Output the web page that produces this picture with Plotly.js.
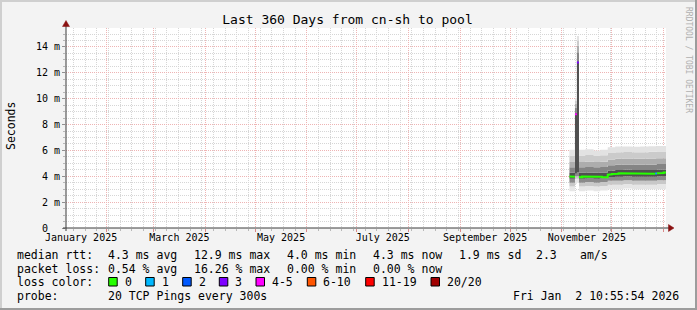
<!DOCTYPE html>
<html><head><meta charset="utf-8">
<script src="https://cdn.plot.ly/plotly-3.0.1.min.js"></script>
<style>html,body{margin:0;padding:0;background:#f3f3f3;}#chart{width:697px;height:310px;}</style>
</head><body><div id="chart"></div><script>
// ---------- data ----------
const titleText = 'Last 360 Days from cn-sh to pool';
const xRange = ['2025-01-07 10:55:54', '2026-01-02 10:55:54'];
const monthLabelDates = ['2025-01-16 12:00', '2025-03-16 12:00', '2025-05-16 12:00', '2025-07-16 12:00', '2025-09-16', '2025-11-16'];
const monthLabels = ['January 2025', 'March 2025', 'May 2025', 'July 2025', 'September 2025', 'November 2025'];
const yTickVals = [0, 2, 4, 6, 8, 10, 12, 14];
const yTickText = ['0\u00a0\u00a0', '2 m', '4 m', '6 m', '8 m', '10 m', '12 m', '14 m'];

const smokeDates = ['2025-11-05 12:00', '2025-11-08 20:00', '2025-11-10', '2025-11-11 06:00', '2025-11-15', '2025-11-20', '2025-11-24', '2025-11-28 12:00', '2025-12-03', '2025-12-08', '2025-12-13', '2025-12-18', '2025-12-23', '2025-12-28', '2026-01-02 10:55'];
const pingMin = [2.85, 3.4, 3.5, 2.85, 2.9, 2.85, 2.9, 3.0, 3.0, 3.05, 3.0, 3.0, 3.0, 3.0, 3.0];
const ping10 = [3.2, 3.8, 3.8, 3.2, 3.25, 3.2, 3.25, 3.35, 3.35, 3.4, 3.35, 3.35, 3.35, 3.4, 3.4];
const ping25 = [3.5, 4.0, 4.0, 3.5, 3.55, 3.5, 3.55, 3.65, 3.65, 3.7, 3.65, 3.65, 3.65, 3.7, 3.7];
const ping40 = [3.8, 4.2, 4.3, 3.8, 3.82, 3.8, 3.82, 3.95, 3.97, 4.0, 3.97, 3.97, 3.97, 4.0, 4.0];
const ping60 = [4.3, 8.9, 12.9, 4.3, 4.3, 4.28, 4.3, 4.45, 4.48, 4.5, 4.48, 4.48, 4.48, 4.5, 4.5];
const ping75 = [4.7, 9.3, 13.6, 4.7, 4.72, 4.7, 4.72, 4.85, 4.9, 4.92, 4.9, 4.9, 4.9, 4.95, 4.95];
const ping85 = [5.1, 9.6, 14.1, 5.1, 5.15, 5.1, 5.12, 5.3, 5.35, 5.38, 5.35, 5.35, 5.38, 5.4, 5.4];
const ping95 = [5.6, 9.85, 14.5, 5.6, 5.65, 5.6, 5.62, 5.8, 5.85, 5.88, 5.85, 5.85, 5.9, 5.92, 5.92];
const pingMax = [6.05, 10.05, 14.85, 6.05, 6.1, 6.0, 6.05, 6.25, 6.3, 6.3, 6.28, 6.3, 6.33, 6.35, 6.35];

const medianDates = ['2025-11-05 12:00', '2025-11-07', '2025-11-08 20:00', '2025-11-10', '2025-11-11 06:00',
  '2025-11-12', '2025-11-13', '2025-11-14', '2025-11-15', '2025-11-16', '2025-11-17', '2025-11-18', '2025-11-19',
  '2025-11-20', '2025-11-21', '2025-11-22', '2025-11-23', '2025-11-24', '2025-11-25', '2025-11-26', '2025-11-27',
  '2025-11-28 12:00', '2025-11-29', '2025-11-30',
  '2025-12-01', '2025-12-02', '2025-12-03', '2025-12-04', '2025-12-05', '2025-12-06', '2025-12-07', '2025-12-08',
  '2025-12-09', '2025-12-10', '2025-12-11', '2025-12-12', '2025-12-13', '2025-12-14', '2025-12-15', '2025-12-16',
  '2025-12-17', '2025-12-18', '2025-12-19', '2025-12-20', '2025-12-21', '2025-12-22', '2025-12-23', '2025-12-24',
  '2025-12-25', '2025-12-26', '2025-12-27', '2025-12-28', '2025-12-29', '2025-12-30', '2025-12-31',
  '2026-01-01', '2026-01-02 10:55'];
const medianRtt = [3.98, 3.97, 8.8, 12.8, 3.95,
  3.92, 3.98, 3.93, 3.97, 3.94, 3.98, 3.95, 3.93,
  3.97, 3.94, 3.96, 3.93, 3.97, 3.92, 3.94, 3.93,
  4.12, 4.13, 4.15,
  4.18, 4.17, 4.22, 4.2, 4.24, 4.2, 4.22, 4.2,
  4.21, 4.19, 4.2, 4.22, 4.2, 4.19, 4.21, 4.2,
  4.24, 4.2, 4.19, 4.2, 4.21, 4.2, 4.19, 4.2,
  4.21, 4.2, 4.22, 4.23, 4.23, 4.24, 4.25,
  4.3, 4.3];
const medianLoss = [0, 0, 4, 3, 0,
  0, 0, 0, 0, 0, 0, 0, 0,
  0, 0, 0, 0, 0, 0, 0, 0,
  0, 0, 0,
  0, 0, 0, 0, 0, 0, 0, 0,
  0, 0, 0, 0, 0, 0, 0, 0,
  0, 0, 0, 0, 0, 0, 0, 0,
  0, 0, 1, 0, 0, 0, 0,
  0, 0];

const lossLabels = ['0', '1', '2', '3', '4-5', '6-10', '11-19', '20/20'];
const lossColors = ['#26ff00', '#00b8ff', '#0059ff', '#7e00ff', '#ff00ff', '#ff5500', '#ff0000', '#a00000'];

const rttLabel = 'median rtt:';
const rttStats = ['4.3 ms avg', '12.9 ms max', '4.0 ms min', '4.3 ms now', '1.9 ms sd', '2.3', 'am/s'];
const lossLabel = 'packet loss:';
const lossStats = ['0.54 % avg', '16.26 % max', '0.00 % min', '0.00 % now'];
const lossColorLabel = 'loss color:';
const probeLabel = 'probe:';
const probeText = '20 TCP Pings every 300s';
const stampText = 'Fri Jan\u00a0\u00a02 10:55:54 2026';
const watermark = 'RRDTOOL / TOBI OETIKER';
const yTitle = 'Seconds';

// ---------- layout helpers ----------
const FONT = 'DejaVu Sans Mono';
const L = 66, T = 28, W = 600, H = 200, FW = 697, FH = 310;
const px = x => (x - L) / W;
const py = y => (T + H - y) / H;

const bandColors = ['#e6e6e6', '#c8c8c8', '#8a8a8a', '#505050', '#858585', '#adadad', '#cbcbcb', '#e2e2e2'];
const pings = [pingMin, ping10, ping25, ping40, ping60, ping75, ping85, ping95, pingMax];

const traces = [];
pings.forEach((arr, i) => {
  traces.push({
    type: 'scatter', mode: 'lines', x: smokeDates, y: arr,
    line: {width: 0, shape: 'hv'},
    fill: i === 0 ? 'none' : 'tonexty',
    fillcolor: i === 0 ? undefined : bandColors[i - 1],
    hoverinfo: 'skip', showlegend: false
  });
});

// median line, one trace per loss colour, step segments
lossColors.forEach((col, c) => {
  const xs = [], ys = [];
  for (let i = 0; i < medianDates.length - 1; i++) {
    if (medianLoss[i] !== c) continue;
    const prevSame = i > 0 && medianLoss[i - 1] === c;
    if (!prevSame) { xs.push(medianDates[i]); ys.push(medianRtt[i]); }
    else { xs.push(medianDates[i]); ys.push(medianRtt[i - 1]); xs.push(medianDates[i]); ys.push(medianRtt[i]); }
    const nextSame = i + 1 < medianDates.length - 1 && medianLoss[i + 1] === c;
    if (!nextSame) { xs.push(medianDates[i + 1]); ys.push(medianRtt[i]); xs.push(null); ys.push(null); }
  }
  if (xs.length) traces.push({type: 'scatter', mode: 'lines', x: xs, y: ys, line: {color: col, width: 2}, hoverinfo: 'skip', showlegend: false, connectgaps: false});
});

// dummy trace for label axis
traces.push({type: 'scatter', x: [xRange[0]], y: [null], xaxis: 'x2', yaxis: 'y', hoverinfo: 'skip', showlegend: false});

const ann = [];
function txt(text, x, y, opts) {
  ann.push(Object.assign({text: text, x: px(x), y: py(y), xref: 'paper', yref: 'paper', xanchor: 'left', yanchor: 'middle',
    showarrow: false, borderpad: 0, font: {family: FONT, size: 11.5, color: '#000'}}, opts || {}));
}
const row1 = 254.5, row2 = 268.5, row3 = 282, row4 = 296;
const colX = [107.3, 193.3, 286, 372.3, 458.3, 535, 579.3];
txt(rttLabel, 16, row1);
rttStats.forEach((s, i) => txt(s, colX[i], row1));
txt(lossLabel, 16, row2);
lossStats.forEach((s, i) => txt(s, colX[i], row2));
txt(lossColorLabel, 16, row3);
const boxX = [108.7, 145.7, 182.7, 219.3, 256, 307.3, 365.7, 431];
const boxLabelX = [124, 161, 197.7, 234.3, 271, 322.3, 381, 445.7];
lossLabels.forEach((s, i) => txt(s, boxLabelX[i], row3));
txt(probeLabel, 16, row4);
txt(probeText, colX[0], row4);
txt(stampText, 680, row4, {xanchor: 'right'});
txt(yTitle, 11, 126, {xanchor: 'center', textangle: -90});
txt(watermark, 689, 60, {xanchor: 'center', textangle: 90, font: {family: FONT, size: 8, color: '#b0b0b0'}});

const shapes = [];
lossColors.forEach((col, i) => {
  shapes.push({type: 'rect', xref: 'paper', yref: 'paper', x0: px(boxX[i]), x1: px(boxX[i] + 8.5), y0: py(277.5), y1: py(286),
    fillcolor: col, line: {color: '#000', width: 1}, layer: 'above'});
});
// axis lines and arrows
const axisCol = '#3a3a3a', arrowCol = '#8a1010';
shapes.push({type: 'line', xref: 'paper', yref: 'paper', x0: px(L), x1: px(L), y0: py(T + H + 3), y1: py(24), line: {color: axisCol, width: 1}, layer: 'above'});
shapes.push({type: 'line', xref: 'paper', yref: 'paper', x0: px(L - 3), x1: px(670), y0: py(T + H), y1: py(T + H), line: {color: axisCol, width: 1}, layer: 'above'});
shapes.push({type: 'path', xref: 'paper', yref: 'paper', layer: 'above', fillcolor: arrowCol, line: {color: arrowCol, width: 0.5},
  path: `M ${px(L - 3.5)} ${py(26.5)} L ${px(L)} ${py(20.5)} L ${px(L + 3.5)} ${py(26.5)} Z`});
shapes.push({type: 'path', xref: 'paper', yref: 'paper', layer: 'above', fillcolor: arrowCol, line: {color: arrowCol, width: 0.5},
  path: `M ${px(668.5)} ${py(T + H - 3.5)} L ${px(674)} ${py(T + H)} L ${px(668.5)} ${py(T + H + 3.5)} Z`});
// image frame
const fr = (x0, x1, y0, y1, c) => shapes.push({type: 'rect', xref: 'paper', yref: 'paper', x0: px(x0), x1: px(x1), y0: py(y0), y1: py(y1), fillcolor: c, line: {width: 0}, layer: 'above'});
fr(0, FW, 0, 2, '#cfcfcf');
fr(0, 2, 0, FH, '#cfcfcf');
fr(FW - 2, FW, 0, FH, '#9c9c9c');
fr(0, FW, FH - 2, FH, '#9c9c9c');

const layout = {
  width: FW, height: FH,
  margin: {l: L, r: FW - L - W, t: T, b: FH - T - H, pad: 0},
  paper_bgcolor: '#f3f3f3', plot_bgcolor: '#ffffff',
  font: {family: FONT, size: 10, color: '#000'},
  showlegend: false,
  title: {text: titleText, font: {family: FONT, size: 13, color: '#000'}, x: 347.5 / FW, xref: 'container', xanchor: 'center', y: 1 - 19 / FH, yref: 'container', yanchor: 'middle'},
  xaxis: {
    type: 'date', range: xRange, showticklabels: false,
    tick0: '2025-01-01', dtick: 'M1', ticks: 'outside', ticklen: 3, tickcolor: '#d98888', tickwidth: 1,
    showgrid: true, gridcolor: '#eeb4b4', griddash: '1px,1px', gridwidth: 1,
    minor: {tick0: '2025-01-05', dtick: 604800000, showgrid: true, gridcolor: '#d6d6d6', griddash: '1px,1px', gridwidth: 1, ticks: 'outside', ticklen: 2, tickcolor: '#b8b8b8'},
    showline: false, zeroline: false, fixedrange: true
  },
  xaxis2: {
    type: 'date', range: xRange, overlaying: 'x', anchor: 'y', side: 'bottom',
    tickmode: 'array', tickvals: monthLabelDates, ticktext: monthLabels, ticks: '', showgrid: false, showline: false, zeroline: false,
    tickfont: {family: FONT, size: 10, color: '#000'}, ticklabelstandoff: 2
  },
  yaxis: {
    range: [0, 200 / 12.93], tickmode: 'array', tickvals: yTickVals, ticktext: yTickText,
    ticks: 'outside', ticklen: 3, tickcolor: '#909090', showgrid: true, gridcolor: '#eeb4b4', griddash: '1px,1px', gridwidth: 1,
    minor: {dtick: 0.5, showgrid: true, gridcolor: '#d6d6d6', griddash: '1px,1px', gridwidth: 1, ticks: 'outside', ticklen: 2, tickcolor: '#b8b8b8'},
    tickfont: {family: FONT, size: 10, color: '#000'}, showline: false, zeroline: false, fixedrange: true
  },
  annotations: ann, shapes: shapes
};

Plotly.newPlot('chart', traces, layout, {staticPlot: true, displayModeBar: false});
</script></body></html>
